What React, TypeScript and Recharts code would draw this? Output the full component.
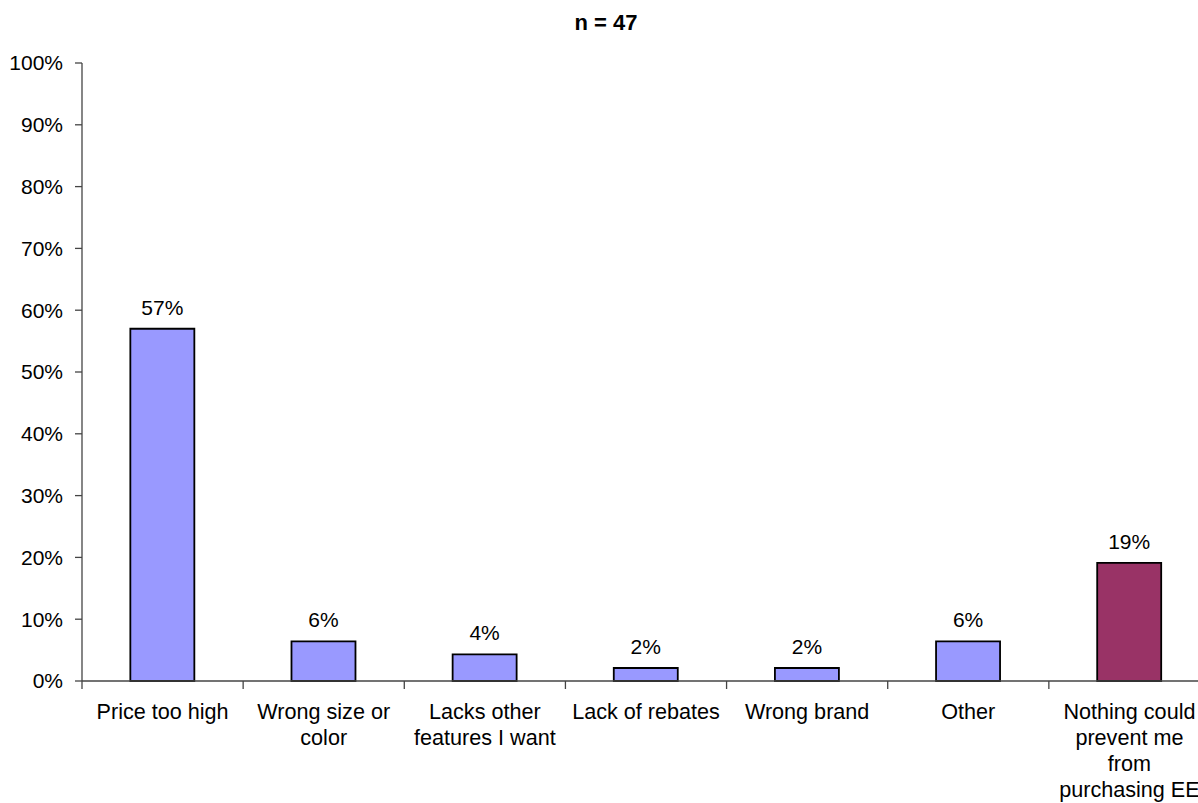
import { BarChart, Bar, Cell, XAxis, YAxis, LabelList } from "recharts";

const categories = [
  "Price too high",
  "Wrong size or color",
  "Lacks other features I want",
  "Lack of rebates",
  "Wrong brand",
  "Other",
  "Nothing could prevent me from purchasing EE",
];
const shares = [57.0, 6.4, 4.3, 2.1, 2.1, 6.4, 19.1];
const barColors = ["#9999FF", "#9999FF", "#9999FF", "#9999FF", "#9999FF", "#9999FF", "#993366"];
const yTicks = [0, 10, 20, 30, 40, 50, 60, 70, 80, 90, 100];

const data = categories.map((name, i) => ({ name, value: shares[i] }));

const FONT = '"Liberation Sans", Arial, Helvetica, sans-serif';
const FONT_SIZE = 21;
const CAT_FONT_SIZE = 21.6;
const CHART_W = 1230;
const CHART_H = 803;
const Y_AXIS_W = 82;
const RIGHT = 20;
const BAND = (CHART_W - Y_AXIS_W - RIGHT) / categories.length;
const WRAP_W = 150;
const AXIS_COLOR = "#444";

let ctx: CanvasRenderingContext2D | null = null;
const measure = (s: string) => {
  if (!ctx) ctx = document.createElement("canvas").getContext("2d");
  if (!ctx) return s.length * CAT_FONT_SIZE * 0.5;
  ctx.font = `${CAT_FONT_SIZE}px ${FONT}`;
  return ctx.measureText(s).width;
};

// greedy word wrap for the category labels
const wrap = (label: string) => {
  const lines: string[] = [];
  let cur = "";
  for (const w of label.split(" ")) {
    const next = cur ? `${cur} ${w}` : w;
    if (cur && measure(next) > WRAP_W) {
      lines.push(cur);
      cur = w;
    } else {
      cur = next;
    }
  }
  if (cur) lines.push(cur);
  return lines;
};

// category label plus an Excel-style tick on the band boundary
const CategoryTick = (props: any) => {
  const { x, y, payload, index } = props;
  const left = x - BAND / 2;
  const lines = wrap(String(payload.value));
  return (
    <g>
      <line x1={left} y1={y} x2={left} y2={y + 8} stroke={AXIS_COLOR} strokeWidth={1.3} />
      {index === categories.length - 1 && (
        <line x1={left + BAND} y1={y} x2={left + BAND} y2={y + 8} stroke={AXIS_COLOR} strokeWidth={1.3} />
      )}
      <text
        x={x}
        y={y + 38}
        textAnchor="middle"
        fontSize={CAT_FONT_SIZE}
        fontFamily={FONT}
        fill="#000"
      >
        {lines.map((ln, i) => (
          <tspan key={i} x={x} dy={i === 0 ? 0 : 26}>
            {ln}
          </tspan>
        ))}
      </text>
    </g>
  );
};

export default function App() {
  return (
    <div
      style={{
        position: "absolute",
        left: 0,
        top: 0,
        width: 1198,
        height: 803,
        overflow: "hidden",
        background: "#fff",
        fontFamily: FONT,
      }}
    >
      <div
        style={{
          position: "absolute",
          left: 0,
          top: 11,
          width: 1212,
          textAlign: "center",
          fontWeight: "bold",
          fontSize: 22,
          lineHeight: "24px",
          color: "#000",
        }}
      >
        n = 47
      </div>
      <BarChart
        width={CHART_W}
        height={CHART_H}
        data={data}
        margin={{ top: 63, right: RIGHT, bottom: 0, left: 0 }}
        barCategoryGap="30%"
        style={{ fontFamily: FONT }}
      >
        <XAxis
          dataKey="name"
          interval={0}
          height={122}
          tickLine={false}
          tickSize={0}
          tickMargin={0}
          axisLine={{ stroke: AXIS_COLOR, strokeWidth: 1.3 }}
          tick={<CategoryTick />}
        />
        <YAxis
          width={Y_AXIS_W}
          domain={[0, 100]}
          ticks={yTicks}
          interval={0}
          tickSize={7}
          tickMargin={12}
          tickFormatter={(v: number) => `${v}%`}
          tick={{ fontSize: FONT_SIZE, fill: "#000" }}
          tickLine={{ stroke: AXIS_COLOR, strokeWidth: 1.3 }}
          axisLine={{ stroke: AXIS_COLOR, strokeWidth: 1.3 }}
        />
        <Bar dataKey="value" stroke="#000" strokeWidth={1.8} isAnimationActive={false}>
          {data.map((d, i) => (
            <Cell key={d.name} fill={barColors[i]} />
          ))}
          <LabelList
            dataKey="value"
            position="top"
            offset={14}
            fontSize={FONT_SIZE}
            fill="#000"
            formatter={(v: any) => `${Math.round(Number(v))}%`}
          />
        </Bar>
      </BarChart>
    </div>
  );
}
